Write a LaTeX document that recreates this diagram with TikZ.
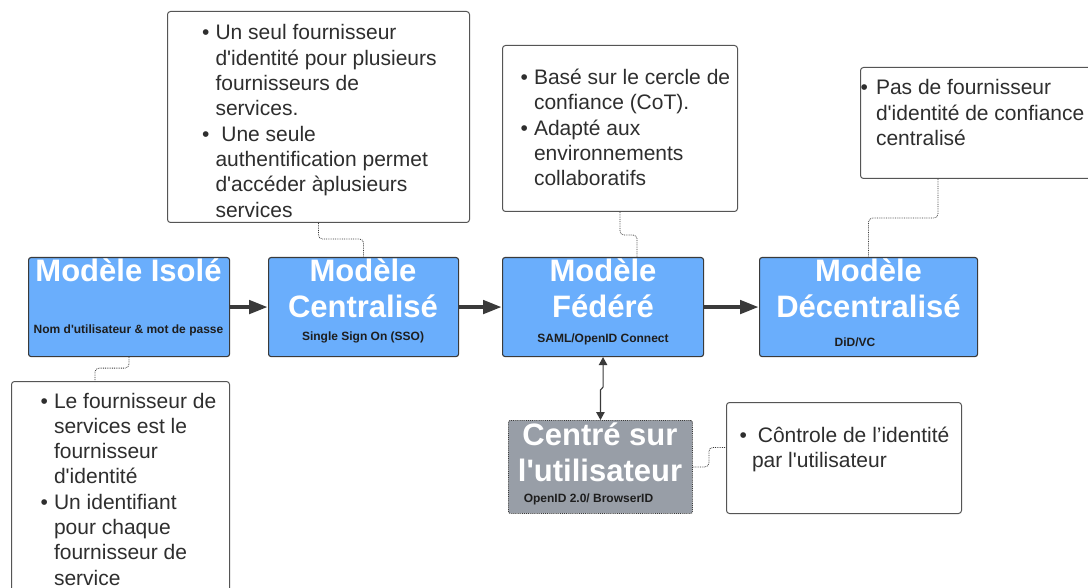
\documentclass[tikz,border=0pt]{standalone}
\usepackage{fontspec}
\setmainfont{Liberation Sans}[Ligatures=TeXOff]
\usetikzlibrary{arrows.meta,calc}
\definecolor{boxblue}{HTML}{6AAEFC}
\definecolor{boxgray}{HTML}{989EA7}
\definecolor{edgec}{HTML}{3A3A3A}
\definecolor{notec}{HTML}{555555}
\definecolor{txtc}{HTML}{2E2E2E}
\definecolor{subc}{HTML}{1E1E1E}
\newcommand\bul{•}
\newcommand\notefont{\fontsize{21}{25.3}\selectfont}
\newcommand\titlefont{\fontsize{31}{36}\selectfont\bfseries}
\newcommand\subfont{\fontsize{12}{14}\selectfont\bfseries}
\tikzset{
  model/.style={draw=edgec, line width=1.1pt, fill=boxblue, rounded corners=2.5pt, inner sep=0pt, anchor=north west},
  usermodel/.style={draw=edgec, line width=0.9pt, densely dotted, fill=boxgray, rounded corners=2pt, inner sep=0pt, anchor=north west},
  notebox/.style={draw=notec, line width=1pt, fill=white, rounded corners=3pt, inner sep=0pt, anchor=north west},
  titletext/.style={text=white, font=\titlefont, inner sep=0pt, anchor=base},
  subtext/.style={text=subc, font=\subfont, inner sep=0pt, anchor=base},
  notetext/.style={text=txtc, font=\notefont, inner sep=0pt, anchor=base west},
  bigarr/.style={draw=edgec, line width=4.6pt, -{Triangle[length=19pt,width=13pt]}},
  darr/.style={draw=edgec, line width=1.1pt, {Triangle[length=8pt,width=8.5pt]}-{Triangle[length=8pt,width=8.5pt]}},
  conn/.style={draw=edgec, line width=0.8pt, densely dotted, rounded corners=4pt},
}
\begin{document}
\begin{tikzpicture}[x=1pt,y=-1pt]
\clip (0,0) rectangle (1088,588);
\fill[white] (0,0) rectangle (1088,588);

% model boxes
\node[model, minimum width=201pt, minimum height=99pt] (m1) at (28,257) {};
\node[model, minimum width=190pt, minimum height=99pt] (m2) at (268,257) {};
\node[model, minimum width=201pt, minimum height=99pt] (m3) at (502,257) {};
\node[model, minimum width=218pt, minimum height=99pt] (m4) at (759,257) {};
\node[usermodel, minimum width=184pt, minimum height=93pt] (c5) at (508,420) {};

% note boxes
\node[notebox, minimum width=302pt, minimum height=211pt] (n1) at (167,11) {};
\node[notebox, minimum width=235pt, minimum height=166pt] (n2) at (502,45) {};
\node[notebox, minimum width=240pt, minimum height=111pt] (n3) at (860,67) {};
\node[notebox, minimum width=218pt, minimum height=230pt] (n4) at (11,381) {};
\node[notebox, minimum width=235pt, minimum height=111pt] (n5) at (726,402) {};

% titles
\node[titletext] (t1) at (128.5,282) {Modèle Isolé};
\node[titletext] (t2) at (363,282) {\begin{tabular}[t]{@{}c@{}}Modèle\\Centralisé\end{tabular}};
\node[titletext] (t3) at (603,282) {\begin{tabular}[t]{@{}c@{}}Modèle\\Fédéré\end{tabular}};
\node[titletext] (t4) at (868.5,282) {\begin{tabular}[t]{@{}c@{}}Modèle\\Décentralisé\end{tabular}};
\node[titletext] (t5) at (600,445) {\begin{tabular}[t]{@{}c@{}}Centré sur\\l'utilisateur\end{tabular}};

% subtitles
\node[subtext] (s1) at (128.5,334) {Nom d'utilisateur \& mot de passe};
\node[subtext] (s2) at (363,340.5) {Single Sign On (SSO)};
\node[subtext] (s3) at (603,343) {SAML/OpenID Connect};
\node[subtext] (s4) at (855,346) {DiD/VC};
\node[subtext] (s5) at (588.5,502) {OpenID 2.0/ BrowserID};

% note texts
\node[notetext] (x1) at (202,40) {\begin{tabular}[t]{@{}l@{\hspace{6pt}}l@{}}
\bul & Un seul fournisseur\\
 & d'identité pour plusieurs\\
 & fournisseurs de\\
 & services.\\
\bul & \ Une seule\\
 & authentification permet\\
 & d'accéder àplusieurs\\
 & services
\end{tabular}};
\node[notetext] (x2) at (520.5,84.5) {\begin{tabular}[t]{@{}l@{\hspace{6pt}}l@{}}
\bul & Basé sur le cercle de\\
 & confiance (CoT).\\
\bul & Adapté aux\\
 & environnements\\
 & collaboratifs
\end{tabular}};
\node[notetext] (x3) at (860.5,95) {\begin{tabular}[t]{@{}l@{\hspace{8pt}}l@{}}
\bul & Pas de fournisseur\\
 & d'identité de confiance\\
 & centralisé
\end{tabular}};
\node[notetext] (x4) at (40.5,408) {\begin{tabular}[t]{@{}l@{\hspace{6pt}}l@{}}
\bul & Le fournisseur de\\
 & services est le\\
 & fournisseur\\
 & d'identité\\
\bul & Un identifiant\\
 & pour chaque\\
 & fournisseur de\\
 & service
\end{tabular}};
\node[notetext] (x5) at (739.5,442) {\begin{tabular}[t]{@{}l@{\hspace{5pt}}l@{}}
\bul & \ Côntrole de l’identité\\
 & par l'utilisateur
\end{tabular}};

% main arrows
\draw[bigarr] (m1.east) -- (m2.west);
\draw[bigarr] (m2.east) -- (m3.west);
\draw[bigarr] (m3.east) -- (m4.west);

% double arrow
\draw[darr] (m3.south) -- ++(0,30) -- ($(c5.north)+(0,-30)$) -- (c5.north);

% dotted connectors
\draw[conn] (m1.south) -- ++(0,11) -| ($(n4.north west)+(84,0)$);
\draw[conn] (n1.south) -- ++(0,16) -| (m2.north);
\draw[conn] (n2.south) -- ++(0,23) -| ($(m3.north)+(34,0)$);
\draw[conn] ($(n3.south west)+(78,0)$) -- ++(0,39) -| (m4.north);
\draw[conn] (c5.east) -- ++(16,0) |- ($(n5.west)+(0,-10.5)$);
\end{tikzpicture}
\end{document}
